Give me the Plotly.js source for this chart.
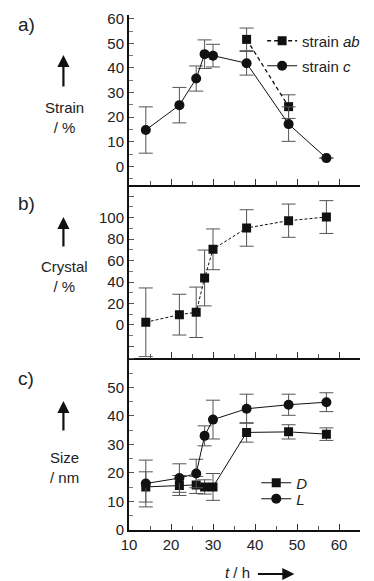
<!DOCTYPE html>
<html>
<head>
<meta charset="utf-8">
<script src="https://cdn.plot.ly/plotly-3.0.1.min.js"></script>
<style>
html,body{margin:0;padding:0;background:#fff;}
#chart{width:374px;height:581px;}
</style>
</head>
<body>
<div id="chart"></div>
<script>
// time points (h)
const t = [14, 22, 26, 28, 30, 38, 48, 57];

// panel a) strain (%)
const strainAbT = [38, 48];
const strainAb = [51.6, 24.3];
const strainAbErr = [4.6, 4.8];
const strainC = [14.8, 24.9, 35.7, 45.6, 45.0, 41.9, 17.2, 3.4];
const strainCErr = [9.4, 7.2, 5.1, 5.8, 4.6, 4.8, 7.0, 0];

// panel b) crystallinity (%)
const crystal = [2.5, 9.6, 11.8, 43.8, 70.5, 90.4, 97.2, 100.6];
const crystalErr = [32, 19, 23.5, 26, 19, 17, 15.5, 15.3];

// panel c) size (nm)
const sizeD = [15.1, 15.6, 15.8, 15.1, 15.1, 34.2, 34.4, 33.6];
const sizeDErr = [5.3, 3.5, 3.0, 2.5, 4.7, 3.4, 2.5, 2.2];
const sizeL = [16.3, 18.2, 19.8, 33.0, 38.7, 42.5, 43.9, 44.8];
const sizeLErr = [8.2, 5.0, 5.0, 3.5, 6.8, 5.1, 3.7, 3.3];

const FONT = 'Liberation Sans, Arial, Helvetica, sans-serif';
const errStyle = (arr) => ({type: 'data', array: arr, visible: true, color: '#555', thickness: 1, width: 7});
const sq = {symbol: 'square', size: 9, color: '#111'};
const ci = {symbol: 'circle', size: 10, color: '#111'};

const traces = [
  {x: strainAbT, y: strainAb, xaxis: 'x', yaxis: 'y', mode: 'lines+markers', name: 'strain <i>ab</i>',
   line: {color: '#111', width: 1.3, dash: '4px,3px'}, marker: sq, error_y: errStyle(strainAbErr), legend: 'legend'},
  {x: t, y: strainC, xaxis: 'x', yaxis: 'y', mode: 'lines+markers', name: 'strain <i>c</i>',
   line: {color: '#111', width: 1}, marker: ci, error_y: errStyle(strainCErr), legend: 'legend2'},
  {x: t, y: crystal, xaxis: 'x2', yaxis: 'y2', mode: 'lines+markers', name: 'crystal', showlegend: false,
   line: {color: '#111', width: 1, dash: '3px,2px'}, marker: sq, error_y: errStyle(crystalErr)},
  {x: t, y: sizeD, xaxis: 'x3', yaxis: 'y3', mode: 'lines+markers', name: '<i>D</i>',
   line: {color: '#111', width: 1}, marker: sq, error_y: errStyle(sizeDErr), legend: 'legend3'},
  {x: t, y: sizeL, xaxis: 'x3', yaxis: 'y3', mode: 'lines+markers', name: '<i>L</i>',
   line: {color: '#111', width: 1}, marker: ci, error_y: errStyle(sizeLErr), legend: 'legend4'}
];

const xBase = (anchor, labels) => ({
  anchor: anchor, range: [10, 65], showgrid: false, zeroline: false,
  showline: true, linecolor: '#111', linewidth: 2,
  ticks: 'inside', tickcolor: '#333', ticklen: 6, tickwidth: 1, dtick: 10, tick0: 10,
  minor: {ticks: 'inside', ticklen: 4, dtick: 5, tick0: 10, tickcolor: '#555'},
  showticklabels: labels, tickfont: {family: FONT, size: 15, color: '#222'}
});
// overlay axes that give the crossing major ticks below panels a) and b)
const xCross = (anchor, over) => ({
  anchor: anchor, overlaying: over, range: [10, 65], showgrid: false, zeroline: false,
  showline: false, ticks: 'outside', ticklen: 5, tickwidth: 1, tickcolor: '#333',
  dtick: 10, tick0: 10, showticklabels: false
});
const yBase = (domain, range) => ({
  domain: domain, range: range, showgrid: false, zeroline: false,
  showline: true, linecolor: '#111', linewidth: 2,
  ticks: 'inside', tickcolor: '#555', ticklen: 5, tickwidth: 1,
  tickfont: {family: FONT, size: 15, color: '#222'}
});

const ya = yBase([0.670, 1], [-7.5, 61.5]);
ya.dtick = 10; ya.tick0 = 0; ya.minor = {ticks: 'inside', ticklen: 4, dtick: 5, tick0: 0, tickcolor: '#777'};
const yb = yBase([0.3346, 0.670], [-30.5, 130.5]);
yb.tickmode = 'array'; yb.tickvals = [-20, 0, 20, 40, 60, 80, 100, 120];
yb.ticktext = ['', '0', '20', '40', '60', '80', '100', ''];
yb.minor = {ticks: 'inside', ticklen: 4, dtick: 10, tick0: 0, tickcolor: '#777'};
const yc = yBase([0, 0.3346], [0, 60.4]);
yc.tickmode = 'array'; yc.tickvals = [0, 10, 20, 30, 40, 50, 60];
yc.ticktext = ['0', '10', '20', '30', '40', '50', ''];
yc.minor = {ticks: 'inside', ticklen: 4, dtick: 5, tick0: 0, tickcolor: '#777'};

const W = 236, H = 515, L0 = 129, B0 = 530;
const px = (x) => (x - L0) / W;
const py = (y) => (B0 - y) / H;
const legStyle = (x, y) => ({x: px(x), y: py(y), xanchor: 'left', yanchor: 'middle', bgcolor: 'rgba(0,0,0,0)',
  borderwidth: 0, itemwidth: 30, font: {family: FONT, size: 15, color: '#222'}});

const ann = [];
const txt = (text, x, y, size) => ann.push({text: text, x: px(x), y: py(y), xref: 'paper', yref: 'paper',
  showarrow: false, xanchor: 'center', yanchor: 'middle', font: {family: FONT, size: size, color: '#222'}});
const arrow = (hx, hy, ax, ay) => ann.push({text: '', x: px(hx), y: py(hy), xref: 'paper', yref: 'paper',
  showarrow: true, ax: ax, ay: ay, arrowhead: 2, arrowsize: 1.1, arrowwidth: 2.2, arrowcolor: '#111'});

txt('a)', 24, 25, 19); txt('b)', 24, 203, 19); txt('c)', 24, 378, 19);
arrow(62, 55, 0, 33); arrow(62, 217, 0, 31); arrow(62, 401, 0, 31);
txt('Strain<br>/ %', 63, 118, 15);
txt('Crystal<br>/ %', 63, 276, 15);
txt('Size<br>/ nm', 63, 467, 15);
txt('<i>t</i> / h', 240, 572, 15);
arrow(298, 574, -38, 0);

const layout = {
  width: 374, height: 581,
  margin: {l: 129, r: 9, t: 15, b: 51},
  paper_bgcolor: '#fff', plot_bgcolor: '#fff',
  font: {family: FONT, color: '#222'},
  xaxis: xBase('y', false), xaxis2: xBase('y2', false), xaxis3: xBase('y3', true),
  xaxis4: xCross('y', 'x'), xaxis5: xCross('y2', 'x2'),
  yaxis: ya, yaxis2: yb, yaxis3: yc,
  legend: legStyle(265, 41), legend2: legStyle(265, 66),
  legend3: legStyle(259, 483), legend4: legStyle(259, 499),
  annotations: ann
};

Plotly.newPlot('chart', traces, layout, {staticPlot: true, displayModeBar: false});
</script>
</body>
</html>
